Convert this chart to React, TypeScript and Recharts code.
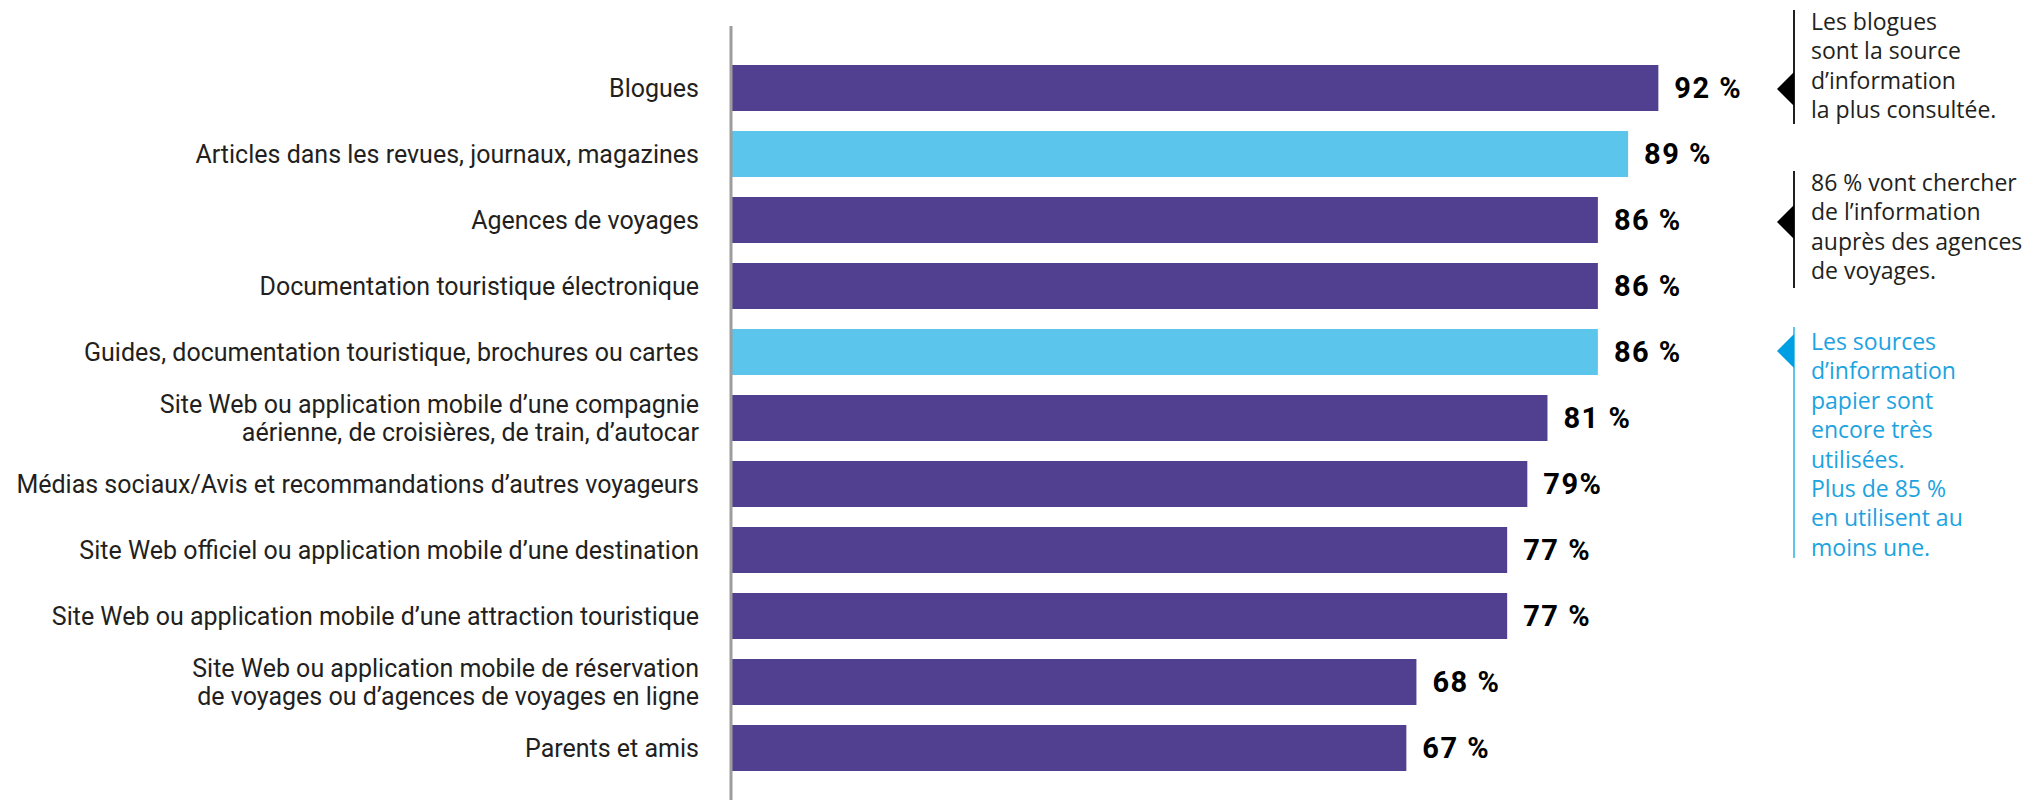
import React from 'react';
import { BarChart, Bar, XAxis, YAxis, Cell, LabelList } from 'recharts';

const categories = [
  'Blogues',
  'Articles dans les revues, journaux, magazines',
  'Agences de voyages',
  'Documentation touristique électronique',
  'Guides, documentation touristique, brochures ou cartes',
  'Site Web ou application mobile d’une compagnie\naérienne, de croisières, de train, d’autocar',
  'Médias sociaux/Avis et recommandations d’autres voyageurs',
  'Site Web officiel ou application mobile d’une destination',
  'Site Web ou application mobile d’une attraction touristique',
  'Site Web ou application mobile de réservation\nde voyages ou d’agences de voyages en ligne',
  'Parents et amis',
];
const values = [92, 89, 86, 86, 86, 81, 79, 77, 77, 68, 67];
const valueLabels = ['92 %', '89 %', '86 %', '86 %', '86 %', '81 %', '79%', '77 %', '77 %', '68 %', '67 %'];
const paperSources = [false, true, false, false, true, false, false, false, false, false, false];

const noteBlogues = ['Les blogues', 'sont la source', 'd’information', 'la plus consultée.'];
const noteAgences = ['86 % vont chercher', 'de l’information', 'auprès des agences', 'de voyages.'];
const notePapier = [
  'Les sources',
  'd’information',
  'papier sont',
  'encore très',
  'utilisées.',
  'Plus de 85 %',
  'en utilisent au',
  'moins une.',
];

const PURPLE = '#51408F';
const LIGHT_BLUE = '#5BC5EC';
const NOTE_BLUE = '#1CA3DF';

const data = categories.map((name, i) => ({
  name,
  value: values[i],
  label: valueLabels[i],
  paper: paperSources[i],
}));

const CategoryTick = (props: any) => {
  const { x, y, payload } = props;
  const lines = String(payload.value).split('\n');
  const lh = 28.5;
  const start = -((lines.length - 1) * lh) / 2;
  return (
    <text x={x} y={y} textAnchor="end" fill="#231F20" fontFamily="Roboto" fontSize={25}>
      {lines.map((l, i) => (
        <tspan key={i} x={x} y={y + start + i * lh} dy="0.35em">
          {l}
        </tspan>
      ))}
    </text>
  );
};

const ValueLabel = (props: any) => {
  const { x, y, width, height, value } = props;
  return (
    <text
      x={Number(x) + Number(width) + 16}
      y={Number(y) + Number(height) / 2}
      dy="0.36em"
      fill="#000"
      fontFamily="Roboto"
      fontWeight={700}
      fontSize={29}
      letterSpacing={1.5}
      textAnchor="start"
    >
      {value}
    </text>
  );
};

const Note = ({
  lines,
  top,
  bottom,
  tipY,
  firstBaseline,
  color,
  lineColor,
  triColor,
}: {
  lines: string[];
  top: number;
  bottom: number;
  tipY: number;
  firstBaseline: number;
  color: string;
  lineColor: string;
  triColor: string;
}) => (
  <g>
    <line x1={1794} x2={1794} y1={top} y2={bottom} stroke={lineColor} strokeWidth={2} />
    <polygon points={`1777,${tipY} 1794,${tipY - 17} 1794,${tipY + 17}`} fill={triColor} />
    <text fill={color} fontFamily="'Open Sans'" fontSize={23}>
      {lines.map((l, i) => (
        <tspan key={i} x={1811} y={firstBaseline + i * 29.4}>
          {l}
        </tspan>
      ))}
    </text>
  </g>
);

export default function App() {
  return (
    <div style={{ position: 'absolute', left: 0, top: 0, width: 2036, height: 800, background: '#fff' }}>
      <BarChart
        width={2036}
        height={800}
        data={data}
        layout="vertical"
        margin={{ top: 26, right: 297, bottom: 0, left: 0 }}
      >
        <XAxis type="number" domain={[0, 100]} hide />
        <YAxis
          type="category"
          dataKey="name"
          width={731}
          interval={0}
          tick={<CategoryTick />}
          tickLine={false}
          tickSize={0}
          tickMargin={32}
          axisLine={{ stroke: '#9D9D9D', strokeWidth: 3 }}
          padding={{ top: 29, bottom: 19 }}
        />
        <Bar dataKey="value" barSize={46} isAnimationActive={false}>
          {data.map((d, i) => (
            <Cell key={i} fill={d.paper ? LIGHT_BLUE : PURPLE} />
          ))}
          <LabelList dataKey="label" content={<ValueLabel />} />
        </Bar>
      </BarChart>
      <svg
        width={2036}
        height={800}
        style={{ position: 'absolute', left: 0, top: 0, pointerEvents: 'none' }}
      >
        <Note
          lines={noteBlogues}
          top={10}
          bottom={124}
          tipY={89}
          firstBaseline={30}
          color="#231F20"
          lineColor="#231F20"
          triColor="#000"
        />
        <Note
          lines={noteAgences}
          top={171}
          bottom={288}
          tipY={222}
          firstBaseline={191}
          color="#231F20"
          lineColor="#231F20"
          triColor="#000"
        />
        <Note
          lines={notePapier}
          top={327}
          bottom={558}
          tipY={351}
          firstBaseline={350}
          color={NOTE_BLUE}
          lineColor={LIGHT_BLUE}
          triColor="#009FE3"
        />
      </svg>
    </div>
  );
}
